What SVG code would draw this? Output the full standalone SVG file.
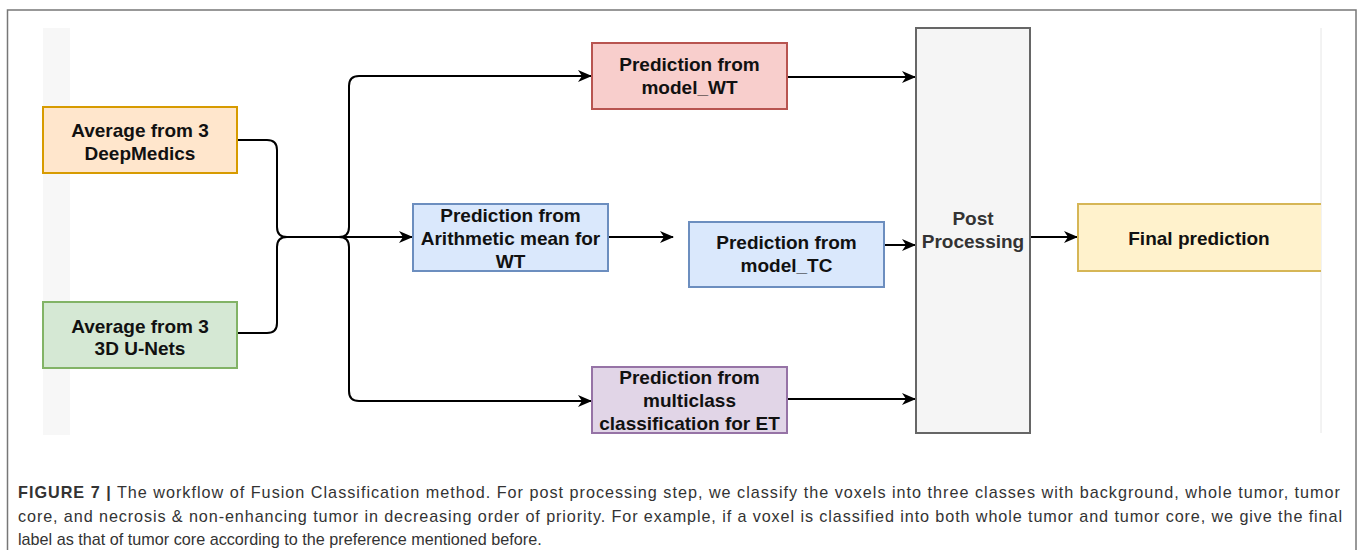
<svg xmlns="http://www.w3.org/2000/svg" width="1360" height="550" viewBox="0 0 1360 550">
<style>
.box{stroke-width:2}
.lbl{font-family:"Liberation Sans",Arial,sans-serif;font-weight:bold;font-size:19px;fill:#111;text-anchor:middle}
.conn{fill:none;stroke:#000;stroke-width:2}
.cap{font-family:"Liberation Sans",Arial,sans-serif;font-size:16.2px;fill:#333}
</style>
<defs>
<marker id="arr" viewBox="0 0 14 12" refX="13" refY="6" markerWidth="14" markerHeight="12" markerUnits="userSpaceOnUse" orient="auto">
<path d="M0,0 L14,6 L0,12 L4,6 Z" fill="#000"/>
</marker>
</defs>
<rect x="0" y="0" width="1360" height="550" fill="#fff"/>
<rect x="7.5" y="10" width="1348.5" height="560" fill="none" stroke="#777" stroke-width="1.5"/>
<rect x="43" y="28" width="27" height="407" fill="#f7f7f7"/>
<line x1="1321" y1="28" x2="1321" y2="433" stroke="#e6e6e6" stroke-width="1"/>

<g id="connectors">
<path class="conn" d="M237,140 H267 Q277,140 277,150 V227 Q277,237 287,237 H412" marker-end="url(#arr)"/>
<path class="conn" d="M237,333 H267 Q277,333 277,323 V247 Q277,237 287,237"/>
<path class="conn" d="M293,237 H339 Q349,237 349,227 V86 Q349,76 359,76 H591" marker-end="url(#arr)"/>
<path class="conn" d="M293,237 H339 Q349,237 349,247 V391 Q349,401 359,401 H591" marker-end="url(#arr)"/>
<path class="conn" d="M608,237 H673" marker-end="url(#arr)"/>
<path class="conn" d="M787,77 H915" marker-end="url(#arr)"/>
<path class="conn" d="M884,245 H915" marker-end="url(#arr)"/>
<path class="conn" d="M787,399 H915" marker-end="url(#arr)"/>
<path class="conn" d="M1030,237 H1077" marker-end="url(#arr)"/>
</g>

<g id="avg-deepmedics">
<rect class="box" x="43" y="107" width="194" height="66" fill="#ffe6cc" stroke="#d79b00"/>
<text class="lbl" x="140" y="137">Average from 3</text>
<text class="lbl" x="140" y="160">DeepMedics</text>
</g>
<g id="avg-unets">
<rect class="box" x="43" y="302" width="194" height="66" fill="#d5e8d4" stroke="#82b366"/>
<text class="lbl" x="140" y="333">Average from 3</text>
<text class="lbl" x="140" y="355">3D U-Nets</text>
</g>
<g id="pred-arith">
<rect class="box" x="413" y="204" width="195" height="67" fill="#dae8fc" stroke="#6c8ebf"/>
<text class="lbl" x="510.5" y="222">Prediction from</text>
<text class="lbl" x="510.5" y="245">Arithmetic mean for</text>
<text class="lbl" x="510.5" y="268">WT</text>
</g>
<g id="pred-tc">
<rect class="box" x="689" y="222" width="195" height="65" fill="#dae8fc" stroke="#6c8ebf"/>
<text class="lbl" x="786.5" y="249">Prediction from</text>
<text class="lbl" x="786.5" y="272">model_TC</text>
</g>
<g id="pred-wt">
<rect class="box" x="592" y="43" width="195" height="66" fill="#f8cecc" stroke="#b85450"/>
<text class="lbl" x="689.5" y="71">Prediction from</text>
<text class="lbl" x="689.5" y="94">model_WT</text>
</g>
<g id="pred-et">
<rect class="box" x="592" y="367" width="195" height="66" fill="#e1d5e7" stroke="#9673a6"/>
<text class="lbl" x="689.5" y="384">Prediction from</text>
<text class="lbl" x="689.5" y="407">multiclass</text>
<text class="lbl" x="689.5" y="430">classification for ET</text>
</g>
<g id="post">
<rect class="box" x="916" y="28" width="114" height="405" fill="#f5f5f5" stroke="#666"/>
<text class="lbl" x="973" y="225" style="fill:#333">Post</text>
<text class="lbl" x="973" y="248" style="fill:#333">Processing</text>
</g>
<g id="final">
<path d="M1321,204 H1078 V271 H1321" fill="#fff2cc" stroke="#d6b656" stroke-width="2"/>
<text class="lbl" x="1199" y="245">Final prediction</text>
</g>

<g id="caption">
<text class="cap" x="18" y="498" textLength="1322" lengthAdjust="spacing"><tspan font-weight="bold">FIGURE 7 |</tspan> The workflow of Fusion Classification method. For post processing step, we classify the voxels into three classes with background, whole tumor, tumor</text>
<text class="cap" x="18" y="522" textLength="1324" lengthAdjust="spacing">core, and necrosis &amp; non-enhancing tumor in decreasing order of priority. For example, if a voxel is classified into both whole tumor and tumor core, we give the final</text>
<text class="cap" x="18" y="545">label as that of tumor core according to the preference mentioned before.</text>
</g>
</svg>
